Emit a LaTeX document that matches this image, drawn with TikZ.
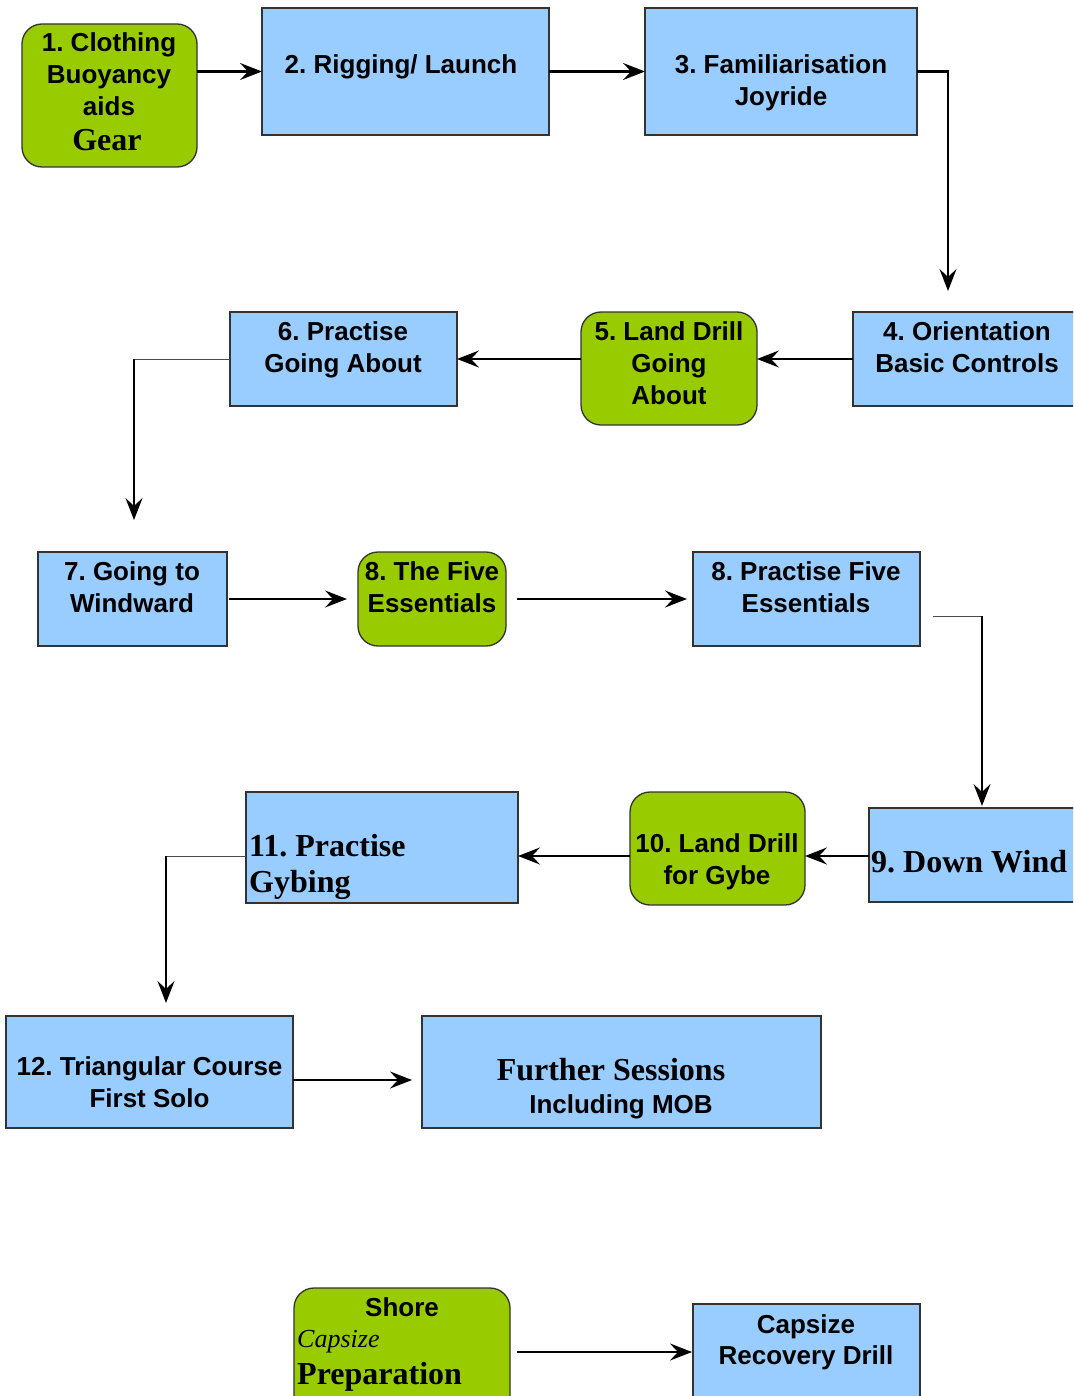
\documentclass[tikz,border=0pt]{standalone}
\usepackage{fontspec}
\setmainfont{Liberation Serif}
\newfontfamily\sansf{Liberation Sans}
\usetikzlibrary{arrows.meta}
\frenchspacing
\definecolor{boxblue}{HTML}{99CCFF}
\definecolor{boxgreen}{HTML}{99CC00}
\definecolor{boxline}{HTML}{333333}
\tikzset{
  bluebox/.style={draw=boxline, fill=boxblue, line width=1.3pt, inner sep=0pt, outer sep=0pt, anchor=north west},
  greenbox/.style={bluebox, fill=boxgreen, rounded corners=20pt},
  st/.style={font=\sansf\bfseries\fontsize{26}{32}\selectfont, anchor=base, inner sep=0pt},
  sr/.style={font=\bfseries\fontsize{32}{38}\selectfont, anchor=base, inner sep=0pt},
  si/.style={font=\itshape\fontsize{26}{32}\selectfont, anchor=base west, inner sep=0pt},
  conn/.style={draw=black, line width=2.4pt, -{Stealth[length=22pt,width=17pt,inset=8pt]}},
  thinseg/.style={draw=gray!60!black, line width=1pt}
}
\begin{document}
\begin{tikzpicture}[x=1pt,y=-1pt]
\useasboundingbox (0,0) rectangle (1073,1396);
\clip (0,0) rectangle (1073,1396);
% boxes
\node[greenbox, minimum width=175pt, minimum height=143pt] (n1) at (22,24) {};
\node[bluebox, minimum width=287pt, minimum height=127pt] (n2) at (262,8) {};
\node[bluebox, minimum width=272pt, minimum height=127pt] (n3) at (645,8) {};
\node[bluebox, minimum width=228pt, minimum height=94pt] (n4) at (853,312) {};
\node[greenbox, minimum width=176pt, minimum height=113pt] (n5) at (581,312) {};
\node[bluebox, minimum width=227pt, minimum height=94pt] (n6) at (230,312) {};
\node[bluebox, minimum width=189pt, minimum height=94pt] (n7) at (38,552) {};
\node[greenbox, minimum width=148pt, minimum height=94pt] (n8a) at (358,552) {};
\node[bluebox, minimum width=227pt, minimum height=94pt] (n8b) at (693,552) {};
\node[bluebox, minimum width=220pt, minimum height=94pt] (n9) at (869,808) {};
\node[greenbox, minimum width=175pt, minimum height=113pt] (n10) at (630,792) {};
\node[bluebox, minimum width=272pt, minimum height=111pt] (n11) at (246,792) {};
\node[bluebox, minimum width=287pt, minimum height=112pt] (n12) at (6,1016) {};
\node[bluebox, minimum width=399pt, minimum height=112pt] (n13) at (422,1016) {};
\node[greenbox, minimum width=216pt, minimum height=130pt] (n14) at (294,1288) {};
\node[bluebox, minimum width=227pt, minimum height=110pt] (n15) at (693,1304) {};
% texts
\node[st] (t1a) at (109,52) {1. Clothing};
\node[st] (t1b) at (109,84) {Buoyancy};
\node[st] (t1c) at (109,116) {aids};
\node[sr] (t1d) at (107,151) {Gear};
\node[st] (t2a) at (401,74) {2. Rigging/ Launch};
\node[st] (t3a) at (781,74) {3. Familiarisation};
\node[st] (t3b) at (781,106) {Joyride};
\node[st] (t4a) at (967,340) {4. Orientation};
\node[st] (t4b) at (967,372) {Basic Controls};
\node[st] (t5a) at (669,340) {5. Land Drill};
\node[st] (t5b) at (669,372) {Going};
\node[st] (t5c) at (669,404) {About};
\node[st] (t6a) at (343,340) {6. Practise};
\node[st] (t6b) at (343,372) {Going About};
\node[st] (t7a) at (132,580) {7. Going to};
\node[st] (t7b) at (132,612) {Windward};
\node[st] (t8aa) at (432,580) {8. The Five};
\node[st] (t8ab) at (432,612) {Essentials};
\node[st] (t8ba) at (806,580) {8. Practise Five};
\node[st] (t8bb) at (806,612) {Essentials};
\node[sr, anchor=base west] (t9a) at (871,872) {9. Down Wind};
\node[st] (t10a) at (717,852) {10. Land Drill};
\node[st] (t10b) at (717,884) {for Gybe};
\node[sr, anchor=base west] (t11a) at (249,856) {11. Practise};
\node[sr, anchor=base west] (t11b) at (249,892) {Gybing};
\node[st] (t12a) at (149.5,1075) {12. Triangular Course};
\node[st] (t12b) at (149.5,1107) {First Solo};
\node[sr] (t13a) at (611,1080) {Further Sessions};
\node[st] (t13b) at (621,1113) {Including MOB};
\node[st] (t14a) at (402,1316) {Shore};
\node[si] (t14b) at (297,1347) {Capsize};
\node[sr, anchor=base west] (t14c) at (297,1384) {Preparation};
\node[st] (t15a) at (806,1333) {Capsize};
\node[st] (t15b) at (806,1364) {Recovery Drill};
% connector coordinates
\coordinate (c4) at (948,291);
\coordinate (k6) at (134,359);
\coordinate (c7) at (134,520);
\coordinate (k8) at (933,616);
\coordinate (k9) at (982,616);
\coordinate (c9) at (982,806);
\coordinate (k11) at (166,856);
\coordinate (c12) at (166,1003);
\coordinate (c13) at (412,1080);
\coordinate (s14) at (517,1352);
\coordinate (c15) at (692,1352);
% connectors
\draw[conn] (n1.east |- n2.west) -- (n2.west);
\draw[conn] (n2.east) -- (n3.west);
\draw[conn] (n3.east) -| (c4);
\draw[conn] (n4.west) -- (n5.east |- n4.west);
\draw[conn] (n5.west |- n6.east) -- (n6.east);
\draw[thinseg] (n6.west) -- (k6);
\draw[conn] (k6) -- (c7);
\draw[conn, shorten <=2pt, shorten >=11pt] (n7.east) -- (n8a.west);
\draw[conn, shorten <=11pt, shorten >=6pt] (n8a.east) -- (n8b.west);
\draw[thinseg] (k8) -- (k9);
\draw[conn] (k9) -- (c9);
\draw[conn] (n9.west |- k11) -- (n10.east |- k11);
\draw[conn] (n10.west |- k11) -- (n11.east |- k11);
\draw[thinseg] (n11.west |- k11) -- (k11);
\draw[conn] (k11) -- (c12);
\draw[conn] (n12.east |- c13) -- (c13);
\draw[conn] (s14) -- (c15);
\end{tikzpicture}
\end{document}
